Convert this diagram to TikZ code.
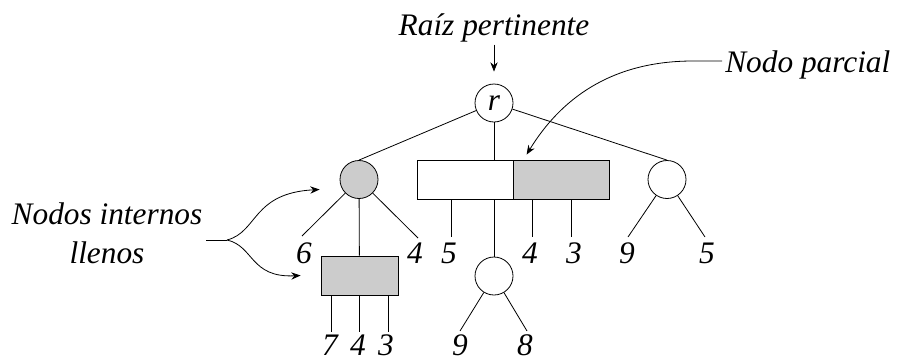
\documentclass[tikz,border=0pt]{standalone}
\usepackage{fontspec}
\setmainfont{Liberation Serif}
\usetikzlibrary{arrows.meta,calc}
\begin{document}
\begin{tikzpicture}[x=0.75pt,y=-0.75pt,
  every node/.style={font=\fontsize{23.5}{29}\selectfont\itshape},
  ln/.style={line width=0.6pt},
  arr/.style={line width=0.6pt,-{Stealth[length=7pt,width=5.5pt]}},
  circ/.style={circle,draw,line width=0.6pt,minimum size=28.5pt,inner sep=0pt},
  full/.style={fill=black!20},
  box/.style={rectangle,draw,line width=0.6pt,minimum height=29.25pt,inner sep=0pt},
  lab/.style={anchor=base,inner sep=0pt}]
\useasboundingbox (0,0) rectangle (897,361);

% nodes
\node[circ] (root) at (494,103) {r};
\node[circ,full] (gc) at (359,179.5) {};
\node[box,minimum width=72pt] (pw) at (465,179.5) {};
\node[box,full,minimum width=72pt] (pg) at (561,179.5) {};
\node[circ] (rc) at (667,179.5) {};
\node[circ] (lc) at (494,276) {};
\node[box,full,minimum width=57.75pt] (gr) at (359.5,275.5) {};

% texts
\node[lab] (rp) at (494,35) {Raíz pertinente};
\node[anchor=base west,inner sep=0pt] (np) at (725,72) {Nodo parcial};
\node[anchor=base,inner sep=0pt,align=center] (ni) at (107,263) {Nodos internos\\llenos};

% leaf labels
\node[lab] (l6) at (304,263) {6};
\node[lab] (l4a) at (415,263) {4};
\node[lab] (l5a) at (449,263) {5};
\node[lab] (l4b) at (530,263) {4};
\node[lab] (l3a) at (574,263) {3};
\node[lab] (l9a) at (627,263) {9};
\node[lab] (l5b) at (707,263) {5};
\node[lab] (l7) at (330,355) {7};
\node[lab] (l4c) at (358,355) {4};
\node[lab] (l3b) at (386,355) {3};
\node[lab] (l9b) at (460,355) {9};
\node[lab] (l8) at (525,355) {8};

% line ends
\coordinate (e6) at (302,236);
\coordinate (e4a) at (418,238);
\coordinate (e5a) at (451,237);
\coordinate (e4b) at (532,237);
\coordinate (e3a) at (571,237);
\coordinate (e9a) at (628,237);
\coordinate (e5b) at (705,237);
\coordinate (e7) at (331,332);
\coordinate (e4c) at (359,332);
\coordinate (e3b) at (388,332);
\coordinate (e9b) at (460,331);
\coordinate (e8) at (527,331);

% tree edges
\draw[ln] (root) -- (gc.north);
\draw[ln] (root) -- (rc.north);
\draw[ln] (root) -- (root |- pw.north);
\draw[ln] (pw.south -| lc) -- (lc);
\draw[ln] (gc) -- (gr);
\draw[ln] (gc) -- (e6);
\draw[ln] (gc) -- (e4a);
\draw[ln] (pw.south -| e5a) -- (e5a);
\draw[ln] (pg.south -| e4b) -- (e4b);
\draw[ln] (pg.south -| e3a) -- (e3a);
\draw[ln] (rc) -- (e9a);
\draw[ln] (rc) -- (e5b);
\draw[ln] (lc) -- (e9b);
\draw[ln] (lc) -- (e8);
\draw[ln] (gr.south -| e7) -- (e7);
\draw[ln] (gr.south -| e4c) -- (e4c);
\draw[ln] (gr.south -| e3b) -- (e3b);

% annotation arrows
\draw[arr,shorten <=2pt,shorten >=9pt] (rp.south) -- (root.north);
\coordinate (npc) at (722,61);
\draw[arr] (npc) -- (693,61) .. controls (610,61) and (560,100) .. ($(pg.north west)+(14,-5)$);
\coordinate (nis) at (206,240);
\coordinate (nij) at (227,240);
\draw[ln] (nis) -- (nij);
\draw[arr] (nij) .. controls (258,232) and (252,193) .. ($(gc.west)+(-20,10)$);
\draw[arr] (nij) .. controls (254,246) and (250,278) .. ($(gr.west)+(-20,0)$);
\end{tikzpicture}
\end{document}
